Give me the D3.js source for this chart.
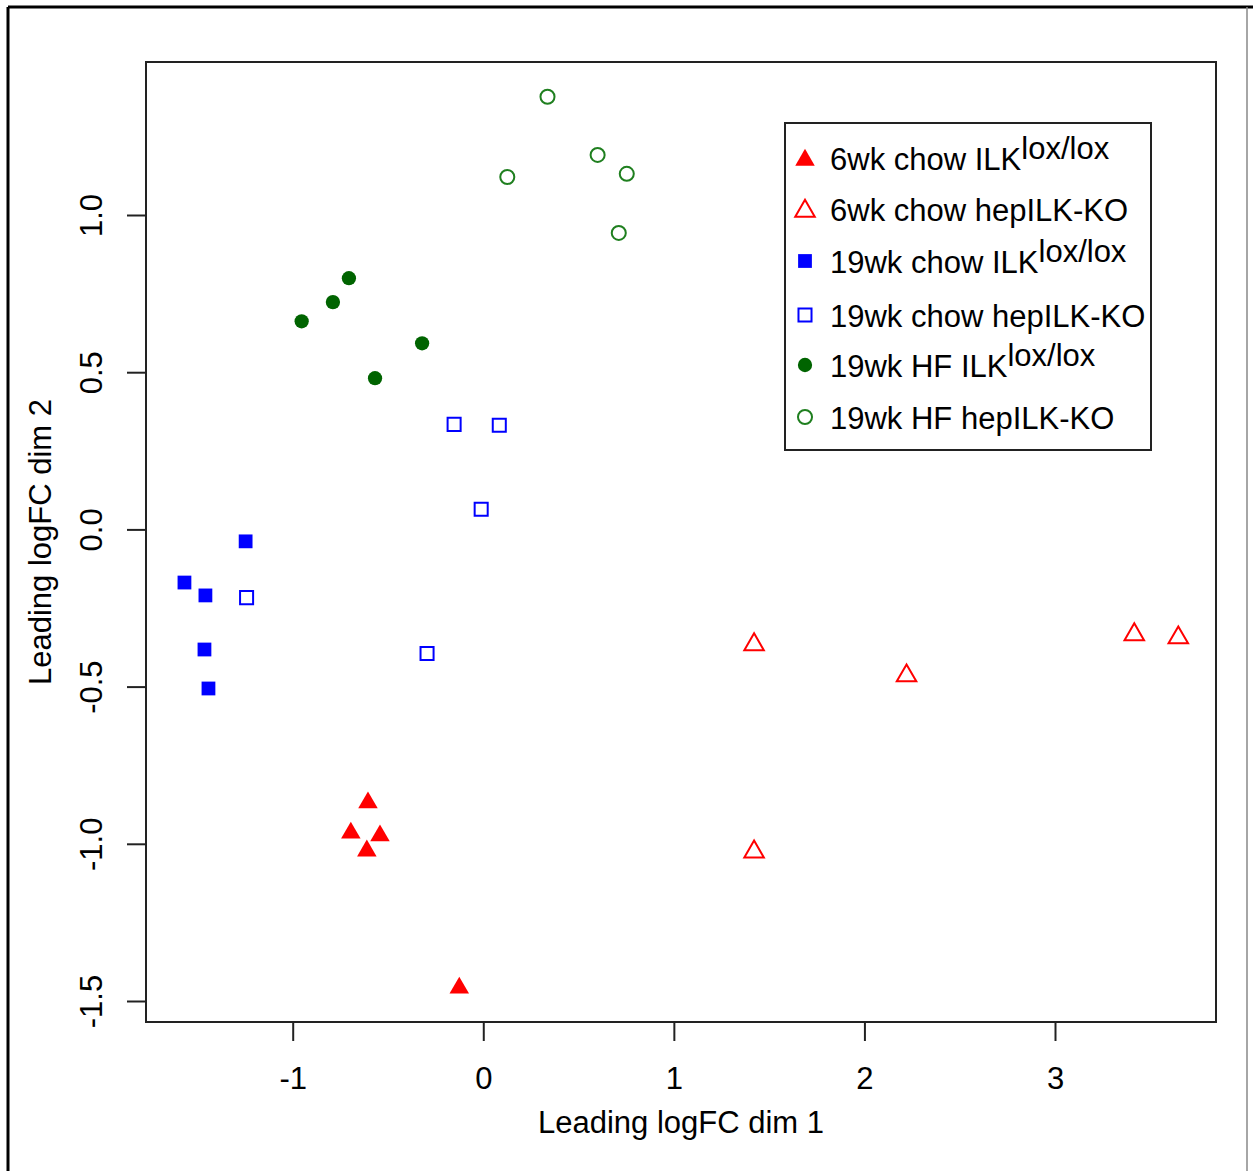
<!DOCTYPE html>
<html lang="en">
<head>
    <meta charset="UTF-8">
    <title>MDS plot</title>
    <script src="https://d3js.org/d3.v7.min.js"></script>
    <style>
        body { margin: 0; background: #fff; }
        text { font-family: "Liberation Sans", Arial, sans-serif; fill: #000; }
        .axis path, .axis line { fill: none; stroke: #222; stroke-width: 2; }
        .axis text { font-size: 31px; }
    </style>
</head>
<body>
<script>
    const width = 1253
    const height = 1171

    // group labels, legend order
    const groupNames = ['6wk chow ILK', '6wk chow hepILK-KO', '19wk chow ILK', '19wk chow hepILK-KO', '19wk HF ILK', '19wk HF hepILK-KO']
    const groupSup = ['lox/lox', '', 'lox/lox', '', 'lox/lox', '']
    const groupColors = ['#ff0000', '#ff0000', '#0000ff', '#0000ff', '#006400', '#1f7f1f']
    const groupShapes = ['triangle', 'triangle', 'square', 'square', 'circle', 'circle']
    const groupFilled = [true, false, true, false, true, false]

    // points per group: [dim1, dim2]
    const g6wkLox = [[-0.605, -0.863], [-0.695, -0.959], [-0.542, -0.968], [-0.611, -1.016], [-0.126, -1.452]]
    const g6wkKO = [[1.421, -0.360], [2.221, -0.459], [3.416, -0.328], [3.647, -0.338], [1.421, -1.019]]
    const g19chowLox = [[-1.568, -0.169], [-1.458, -0.210], [-1.247, -0.038], [-1.463, -0.382], [-1.442, -0.506]]
    const g19chowKO = [[-0.153, 0.334], [0.084, 0.331], [-0.011, 0.064], [-1.242, -0.217], [-0.295, -0.395]]
    const g19hfLox = [[-0.953, 0.662], [-0.789, 0.723], [-0.705, 0.799], [-0.321, 0.592], [-0.568, 0.481]]
    const g19hfKO = [[0.337, 1.376], [0.600, 1.191], [0.753, 1.131], [0.126, 1.121], [0.711, 0.943]]
    const groupPoints = [g6wkLox, g6wkKO, g19chowLox, g19chowKO, g19hfLox, g19hfKO]

    const xTicks = [-1, 0, 1, 2, 3]
    const yTicks = [-1.5, -1.0, -0.5, 0.0, 0.5, 1.0]

    const box = {left: 146, top: 62, right: 1216, bottom: 1022}

    const xScale = d3.scaleLinear()
        .domain([-1, 3])
        .range([292.7, 1055])
    const yScale = d3.scaleLinear()
        .domain([-1.5, 1.0])
        .range([1001, 215])

    const svg = d3.select("body")
        .append("svg")
        .attr("width", width)
        .attr("height", height)

    // outer frame
    svg.append("line").attr("x1", 8).attr("y1", 7).attr("x2", 1253).attr("y2", 7)
        .attr("stroke", "#000").attr("stroke-width", 3)
    svg.append("line").attr("x1", 8).attr("y1", 7).attr("x2", 8).attr("y2", height)
        .attr("stroke", "#000").attr("stroke-width", 3)
    svg.append("line").attr("x1", 1247).attr("y1", 7).attr("x2", 1247).attr("y2", height)
        .attr("stroke", "#888").attr("stroke-width", 1.5)

    // axes
    const xAxis = d3.axisBottom(xScale)
        .tickValues(xTicks)
        .tickSize(19)
        .tickPadding(26)
        .tickFormat(d => d < 0 ? "-" + Math.abs(d) : String(d))
    svg.append("g")
        .attr("class", "axis")
        .attr("transform", "translate(0," + box.bottom + ")")
        .call(xAxis)
        .call(g => g.select(".domain").remove())

    const yAxis = d3.axisLeft(yScale)
        .tickValues(yTicks)
        .tickSize(19)
        .tickPadding(0)
        .tickFormat(d => d < 0 ? "-" + d3.format(".1f")(-d) : d3.format(".1f")(d))
    const yg = svg.append("g")
        .attr("class", "axis")
        .attr("transform", "translate(" + box.left + ",0)")
        .call(yAxis)
        .call(g => g.select(".domain").remove())
    yg.selectAll(".tick text")
        .attr("x", null).attr("dy", null)
        .attr("text-anchor", "middle")
        .attr("transform", "translate(-44,0) rotate(-90)")

    // plot box
    svg.append("rect")
        .attr("x", box.left).attr("y", box.top)
        .attr("width", box.right - box.left).attr("height", box.bottom - box.top)
        .attr("fill", "none").attr("stroke", "#222").attr("stroke-width", 2)

    // axis titles
    svg.append("text")
        .text("Leading logFC dim 1")
        .attr("x", (box.left + box.right) / 2)
        .attr("y", 1133)
        .attr("text-anchor", "middle")
        .attr("font-size", 31)
    svg.append("text")
        .text("Leading logFC dim 2")
        .attr("transform", "translate(51," + (box.top + box.bottom) / 2 + ") rotate(-90)")
        .attr("text-anchor", "middle")
        .attr("font-size", 31)

    function symbolPath(shape, filled) {
        if (shape === 'triangle') return d3.symbol(d3.symbolTriangle, filled ? 165 : 165)()
        if (shape === 'square') return d3.symbol(d3.symbolSquare, filled ? 190 : 170)()
        return d3.symbol(d3.symbolCircle, filled ? 160 : 155)()
    }
    // d3 triangles sit on their centroid; nudge down to match R's glyph centre
    const shapeDy = {triangle: 2, square: 0, circle: 0}

    const groups = svg.selectAll("g.grp")
        .data(groupPoints)
        .enter()
        .append("g")
        .attr("class", "grp")
    groups.each(function (pts, i) {
        d3.select(this).selectAll("path")
            .data(pts)
            .enter()
            .append("path")
            .attr("d", symbolPath(groupShapes[i], groupFilled[i]))
            .attr("transform", d => "translate(" + xScale(d[0]) + "," + (yScale(d[1]) + shapeDy[groupShapes[i]]) + ")")
            .attr("fill", groupFilled[i] ? groupColors[i] : "none")
            .attr("stroke", groupFilled[i] ? "none" : groupColors[i])
            .attr("stroke-width", 2)
    })

    // legend
    const legendRows = [159, 210, 262, 316, 366, 418]
    const legend = svg.append("g")
    legend.append("rect")
        .attr("x", 785).attr("y", 123)
        .attr("width", 366).attr("height", 327)
        .attr("fill", "#fff").attr("stroke", "#222").attr("stroke-width", 2)
    groupNames.forEach(function (name, i) {
        const y = legendRows[i]
        legend.append("path")
            .attr("d", symbolPath(groupShapes[i], groupFilled[i]))
            .attr("transform", "translate(805," + (y + shapeDy[groupShapes[i]] - 1) + ")")
            .attr("fill", groupFilled[i] ? groupColors[i] : "none")
            .attr("stroke", groupFilled[i] ? "none" : groupColors[i])
            .attr("stroke-width", 2)
        const t = legend.append("text")
            .attr("x", 830)
            .attr("y", y + 11)
            .attr("font-size", 31)
        t.append("tspan").text(name)
        if (groupSup[i]) {
            t.append("tspan").text(groupSup[i]).attr("dy", -11)
        }
    })
</script>
</body>
</html>
